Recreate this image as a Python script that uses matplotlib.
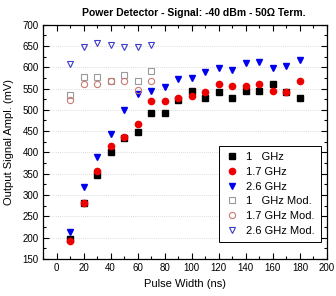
import matplotlib
matplotlib.use("Agg")
import matplotlib.pyplot as plt
from matplotlib.ticker import MultipleLocator

plt.rcParams["font.family"] = ["Liberation Sans", "DejaVu Sans"]

# pulse widths (ns)
pw = [10, 20, 30, 40, 50, 60, 70, 80, 90, 100, 110, 120, 130, 140, 150, 160, 170, 180]
pw_mod = [10, 20, 30, 40, 50, 60, 70]

# measured output amplitude (mV)
amp_1g = [198, 281, 347, 400, 435, 449, 492, 492, 524, 543, 527, 541, 527, 545, 545, 560, 541, 527]
amp_17g = [192, 281, 357, 414, 436, 467, 520, 520, 528, 533, 541, 560, 555, 555, 560, 545, 541, 568]
amp_26g = [213, 319, 389, 443, 500, 536, 545, 553, 572, 575, 588, 598, 594, 611, 612, 598, 603, 616]

# modulated signal
amp_1g_mod = [534, 577, 577, 568, 581, 568, 590]
amp_17g_mod = [524, 560, 560, 568, 567, 547, 567]
amp_26g_mod = [608, 648, 656, 652, 648, 647, 652]

fig = plt.figure(figsize=(3.36, 2.96), dpi=100)
ax = fig.add_axes([0.128, 0.125, 0.845, 0.792])

ms = 4
ax.plot(pw, amp_1g, "s", color="black", ms=ms, mec="black", label="1   GHz")
ax.plot(pw, amp_17g, "o", color="#ee0000", ms=ms + 0.5, mec="#ee0000", label="1.7 GHz")
ax.plot(pw, amp_26g, "v", color="#0000ee", ms=ms + 1, mec="#0000ee", label="2.6 GHz")
ax.plot(pw_mod, amp_1g_mod, "s", mfc="none", mec="#9a9a9a", ms=ms, mew=0.8, label="1   GHz Mod.")
ax.plot(pw_mod, amp_17g_mod, "o", mfc="none", mec="#c87a72", ms=ms + 0.5, mew=0.8, label="1.7 GHz Mod.")
ax.plot(pw_mod, amp_26g_mod, "v", mfc="none", mec="#3a3ac8", ms=ms + 1, mew=0.8, label="2.6 GHz Mod.")

ax.set_xlim(-10, 200)
ax.set_ylim(150, 700)
ax.xaxis.set_major_locator(MultipleLocator(20))
ax.xaxis.set_minor_locator(MultipleLocator(10))
ax.yaxis.set_major_locator(MultipleLocator(50))
ax.yaxis.set_minor_locator(MultipleLocator(25))
ax.tick_params(which="both", direction="in", top=True, right=True, labelsize=7, width=0.8, pad=3)
ax.tick_params(which="major", length=4)
ax.tick_params(which="minor", length=2)
for s in ax.spines.values():
    s.set_linewidth(0.9)

ax.grid(axis="y", which="major", color="#d0d0d0", linestyle=(0, (1, 1.5)), linewidth=0.6)
ax.set_axisbelow(True)

ax.set_xlabel("Pulse Width (ns)", fontsize=8)
ax.set_ylabel("Output Signal Ampl. (mV)", fontsize=8, labelpad=6)
ax.set_title("Power Detector - Signal: -40 dBm - 50\u03a9 Term.", fontsize=7.5, fontweight="bold",
             pad=6, x=0.53)

leg = ax.legend(loc="lower right", fontsize=8, frameon=True, fancybox=False, edgecolor="black",
                framealpha=1, handletextpad=0.6, borderpad=0.55, labelspacing=0.42,
                bbox_to_anchor=(0.997, 0.05), handlelength=1.3)
leg.get_frame().set_linewidth(0.7)

fig.savefig("out.png", dpi=100)
